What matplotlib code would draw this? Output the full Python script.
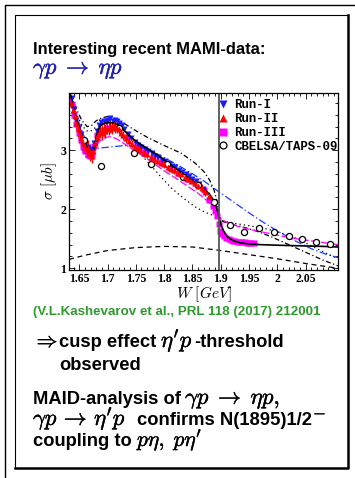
import matplotlib
matplotlib.use("Agg")
import matplotlib.pyplot as plt
import matplotlib.patheffects as pe
from matplotlib.lines import Line2D
from matplotlib.ticker import MultipleLocator

plt.rcParams["mathtext.fontset"] = "cm"

# ---- data (W in GeV, sigma in mub) ----
run1_W = [1.637, 1.641, 1.645, 1.649, 1.653, 1.657, 1.661, 1.665, 1.669, 1.673,
          1.677, 1.681, 1.685, 1.689, 1.693, 1.697, 1.701, 1.705, 1.709, 1.713,
          1.717, 1.721, 1.725, 1.730, 1.736, 1.742, 1.748, 1.754, 1.760, 1.766,
          1.772, 1.778, 1.784, 1.790, 1.796, 1.802, 1.808, 1.814, 1.820, 1.826,
          1.832, 1.838, 1.844, 1.850, 1.856, 1.862, 1.868]
run1_s = [3.88, 3.70, 3.52, 3.40, 3.28, 3.18, 3.10, 3.05, 3.02, 3.00,
          3.12, 3.32, 3.42, 3.47, 3.49, 3.50, 3.52, 3.54, 3.50, 3.52,
          3.49, 3.46, 3.42, 3.36, 3.27, 3.20, 3.14, 3.09, 3.06, 3.02,
          2.99, 2.95, 2.91, 2.88, 2.84, 2.81, 2.77, 2.74, 2.71, 2.67,
          2.63, 2.60, 2.56, 2.52, 2.47, 2.42, 2.35]

run2_W = [1.636, 1.639, 1.642, 1.645, 1.648, 1.651, 1.654, 1.657, 1.660, 1.663,
          1.666, 1.669, 1.672, 1.675, 1.678, 1.681, 1.684, 1.687, 1.690, 1.693,
          1.696, 1.699, 1.702, 1.705, 1.708, 1.711, 1.714, 1.717, 1.720, 1.724,
          1.728, 1.733, 1.738, 1.743, 1.748, 1.753, 1.758, 1.764, 1.770, 1.776,
          1.782, 1.788, 1.794, 1.800, 1.806, 1.812, 1.818, 1.824, 1.830, 1.836,
          1.842, 1.848, 1.854, 1.860, 1.866, 1.872, 1.879]
run2_s = [3.80, 3.68, 3.58, 3.46, 3.38, 3.28, 3.20, 3.12, 3.05, 3.00,
          3.04, 2.95, 2.90, 2.98, 3.12, 3.22, 3.28, 3.32, 3.30, 3.36,
          3.33, 3.38, 3.36, 3.40, 3.38, 3.42, 3.40, 3.38, 3.36, 3.30,
          3.25, 3.20, 3.15, 3.10, 3.06, 3.03, 3.00, 2.96, 2.93, 2.89,
          2.85, 2.82, 2.79, 2.76, 2.72, 2.69, 2.66, 2.62, 2.59, 2.55,
          2.52, 2.48, 2.44, 2.40, 2.36, 2.30, 2.22]
run2_err = [0.08, 0.08, 0.09, 0.09, 0.09, 0.10, 0.10, 0.11, 0.12, 0.12,
            0.13, 0.13, 0.12, 0.12, 0.13, 0.13, 0.12, 0.12, 0.12, 0.12,
            0.12, 0.11, 0.11, 0.11, 0.10, 0.10, 0.10, 0.09, 0.09, 0.09,
            0.08, 0.08, 0.08, 0.07, 0.07, 0.07, 0.07, 0.06, 0.06, 0.06,
            0.06, 0.06, 0.06, 0.06, 0.06, 0.06, 0.06, 0.06, 0.06, 0.06,
            0.06, 0.06, 0.06, 0.06, 0.07, 0.07, 0.07]

run3_W = [1.637, 1.641, 1.645, 1.649, 1.653, 1.657, 1.661, 1.665, 1.669, 1.673,
          1.677, 1.681, 1.690, 1.700, 1.710, 1.720, 1.735, 1.750, 1.765, 1.780,
          1.795, 1.810, 1.825, 1.840, 1.855, 1.870, 1.880, 1.886, 1.890, 1.893,
          1.896, 1.899, 1.902, 1.906, 1.910, 1.914, 1.918, 1.922, 1.926, 1.930,
          1.934, 1.938, 1.942, 1.946, 1.950, 1.954, 1.958]
run3_s = [3.78, 3.60, 3.45, 3.30, 3.18, 3.06, 2.98, 2.93, 2.90, 2.93,
          3.08, 3.25, 3.35, 3.38, 3.40, 3.38, 3.22, 3.06, 2.97, 2.86,
          2.80, 2.70, 2.61, 2.52, 2.44, 2.32, 2.15, 2.05, 1.97, 1.88,
          1.75, 1.63, 1.58, 1.54, 1.51, 1.50, 1.48, 1.47, 1.46, 1.45,
          1.45, 1.44, 1.44, 1.43, 1.43, 1.42, 1.42]

cb_W = [1.659, 1.689, 1.720, 1.747, 1.777, 1.805, 1.834, 1.860, 1.888,
        1.916, 1.941, 1.968, 1.994, 2.020, 2.044, 2.068, 2.093]
cb_s = [3.17, 2.73, 3.37, 2.95, 2.76, 2.76, 2.55, 2.41, 2.12,
        1.73, 1.62, 1.68, 1.62, 1.54, 1.50, 1.45, 1.41]

# model curves
fit_W = [1.634, 1.640, 1.647, 1.653, 1.659, 1.665, 1.670, 1.673, 1.676, 1.680,
         1.684, 1.689, 1.695, 1.703, 1.711, 1.719, 1.727, 1.737, 1.748, 1.760,
         1.775, 1.790, 1.806, 1.822, 1.838, 1.852, 1.864, 1.874, 1.882, 1.888,
         1.892, 1.895, 1.898, 1.901, 1.905, 1.910, 1.916, 1.924, 1.935, 1.950,
         1.970, 2.000, 2.040, 2.080, 2.107]
fit_s = [3.97, 3.72, 3.48, 3.30, 3.14, 3.02, 2.95, 2.93, 3.02, 3.22,
         3.36, 3.43, 3.46, 3.47, 3.46, 3.43, 3.36, 3.26, 3.17, 3.09,
         3.00, 2.91, 2.79, 2.68, 2.57, 2.47, 2.39, 2.31, 2.23, 2.14,
         2.04, 1.94, 1.82, 1.72, 1.63, 1.55, 1.50, 1.46, 1.43, 1.41,
         1.40, 1.39, 1.38, 1.37, 1.36]

blue_W = [1.634, 1.642, 1.650, 1.658, 1.665, 1.670, 1.676, 1.690, 1.710, 1.730,
          1.750, 1.770, 1.795, 1.820, 1.845, 1.870, 1.896, 1.920, 1.945, 1.970,
          2.000, 2.030, 2.060, 2.085, 2.107]
blue_s = [3.95, 3.65, 3.45, 3.25, 3.10, 3.04, 3.03, 3.04, 3.06, 3.08,
          3.07, 3.00, 2.90, 2.77, 2.63, 2.48, 2.30, 2.14, 1.97, 1.81,
          1.63, 1.47, 1.33, 1.24, 1.18]

mag_W = [1.634, 1.640, 1.646, 1.652, 1.658, 1.663, 1.668, 1.673, 1.679, 1.686,
         1.695, 1.703, 1.712, 1.722, 1.740, 1.760, 1.780, 1.800, 1.820, 1.840,
         1.860, 1.875, 1.886, 1.893, 1.896, 1.900, 1.910, 1.930, 1.950, 1.980,
         2.010, 2.040, 2.070, 2.107]
mag_s = [3.88, 3.62, 3.35, 3.10, 2.93, 2.87, 2.87, 2.93, 3.06, 3.16,
         3.21, 3.23, 3.21, 3.16, 3.04, 2.92, 2.79, 2.65, 2.53, 2.40,
         2.27, 2.15, 2.06, 1.99, 1.88, 1.84, 1.78, 1.71, 1.66, 1.60,
         1.54, 1.49, 1.45, 1.40]

dot_W = [1.634, 1.645, 1.655, 1.663, 1.670, 1.678, 1.688, 1.700, 1.712, 1.724,
         1.738, 1.755, 1.775, 1.795, 1.815, 1.835, 1.855, 1.872, 1.885, 1.893,
         1.897, 1.905, 1.925, 1.950, 1.975, 2.000, 2.030, 2.060, 2.085, 2.107]
dot_s = [3.93, 3.62, 3.42, 3.33, 3.32, 3.38, 3.43, 3.44, 3.40, 3.30,
         3.16, 2.97, 2.76, 2.54, 2.34, 2.18, 2.04, 1.95, 1.90, 1.87,
         1.84, 1.80, 1.76, 1.72, 1.68, 1.62, 1.52, 1.38, 1.26, 1.16]

dd_W = [1.634, 1.645, 1.655, 1.664, 1.672, 1.680, 1.690, 1.700, 1.712, 1.725,
        1.745, 1.770, 1.800, 1.830, 1.855, 1.870, 1.880, 1.888, 1.893, 1.897,
        1.902, 1.915, 1.935, 1.960, 1.990, 2.020, 2.050, 2.080, 2.107]
dd_s = [3.95, 3.70, 3.50, 3.40, 3.42, 3.50, 3.55, 3.57, 3.55, 3.48,
        3.36, 3.22, 3.08, 2.95, 2.78, 2.64, 2.50, 2.33, 2.15, 1.90,
        1.80, 1.75, 1.71, 1.64, 1.53, 1.40, 1.27, 1.14, 1.04]

dash_W = [1.632, 1.660, 1.700, 1.750, 1.800, 1.850, 1.900, 1.950, 2.000, 2.050, 2.107]
dash_s = [1.15, 1.22, 1.30, 1.35, 1.37, 1.36, 1.30, 1.23, 1.16, 1.08, 1.00]

threshold_W = 1.896

legend_labels = ["Run-I", "Run-II", "Run-III", "CBELSA/TAPS-09"]

# ---- figure ----
fig = plt.figure(figsize=(3.55, 4.78), dpi=100)

# slide frame + text, drawn in pixel coordinates
bg = fig.add_axes([0, 0, 1, 1], zorder=0)
bg.set_xlim(0, 355)
bg.set_ylim(478, 0)
bg.axis("off")
bg.plot([5, 5, 355], [478, 5, 5], color="black", lw=1.0)
bg.plot([348, 15, 15], [15, 15, 468], color="black", lw=0.8)
bg.plot([15, 348, 348], [468, 468, 15], color="black", lw=1.8)

sans = dict(family="Liberation Sans", fontweight="bold", va="baseline")
body = 13.2
msize = 16.5


def math(x, y, s, size=msize, color="black"):
    # thin outline of the same colour to mimic bold math
    bg.text(x, y, s, fontsize=size, va="baseline", color=color,
            path_effects=[pe.withStroke(linewidth=0.3, foreground=color)])


bg.text(33, 54, "Interesting recent MAMI-data:", fontsize=11.9, **sans)
math(33, 74, r"$\gamma p\;\rightarrow\;\eta p$", color="#1f1fb0")
bg.text(33, 315, "(V.L.Kashevarov et al., PRL 118 (2017) 212001", fontsize=9.6,
        color="#2e9a2e", **sans)

math(33, 347, r"$\Rightarrow$", size=15)
bg.text(59, 347, "cusp effect", fontsize=body, **sans)
math(161, 347, r"$\eta' p$")
bg.text(194, 347, "-threshold", fontsize=body, **sans)
bg.text(59, 370, "observed", fontsize=body, **sans)

bg.text(33, 404, "MAID-analysis of", fontsize=body, **sans)
math(185, 404, r"$\gamma p\;\rightarrow\;\eta p,$")
math(33, 425, r"$\gamma p\,\rightarrow\,\eta' p$")
bg.text(137, 425, "confirms N(1895)1/2", fontsize=body, **sans)
math(313, 418, r"$-$", size=12)
bg.text(33, 446, "coupling to", fontsize=body, **sans)
math(137, 446, r"$p\eta,\; p\eta'$", size=15.5)

# chart
ax = fig.add_axes([69 / 355, 1 - 270 / 478, 269 / 355, 177 / 478], zorder=1)

ax.plot(dash_W, dash_s, color="black", lw=0.9, dashes=(4, 3))
ax.plot(dot_W, dot_s, color="black", lw=0.9, dashes=(1, 2.5))
ax.plot(dd_W, dd_s, color="black", lw=0.9, dashes=(4, 2, 1, 2))
ax.plot(blue_W, blue_s, color="#1a3cff", lw=0.9, dashes=(6, 2, 1, 2))
ax.plot(mag_W, mag_s, color="#ff00ff", lw=0.9, dashes=(6, 2))

ax.plot(run3_W, run3_s, "s", color="#ff00ff", ms=3.8, mec="none")
ax.errorbar(run2_W, run2_s, yerr=run2_err, fmt="^", color="red", ms=3.8,
            mec="none", elinewidth=0.9, capsize=0)
ax.plot(run1_W, run1_s, "v", color="#1a1aff", ms=3.8, mec="none")
ax.plot(fit_W, fit_s, color="black", lw=1.2)
ax.plot(cb_W, cb_s, "o", mfc="white", mec="black", mew=0.9, ms=4.4)

ax.axvline(threshold_W, color="#555555", lw=1.3)

ax.set_xlim(1.632, 2.107)
ax.set_ylim(0.97, 3.97)
ax.xaxis.set_major_locator(MultipleLocator(0.05))
ax.xaxis.set_minor_locator(MultipleLocator(0.01))
ax.yaxis.set_major_locator(MultipleLocator(1))
ax.yaxis.set_minor_locator(MultipleLocator(0.2))
ax.tick_params(which="both", direction="in", top=True, right=True, width=0.6)
ax.tick_params(which="major", length=4, pad=2)
ax.tick_params(which="minor", length=2)
ax.set_xticks([1.65, 1.7, 1.75, 1.8, 1.85, 1.9, 1.95, 2.0, 2.05])
ax.set_xticklabels(["1.65", "1.7", "1.75", "1.8", "1.85", "1.9", "1.95", "2", "2.05"])
ax.set_yticks([1, 2, 3])
ax.set_yticklabels(["1", "2", "3"])
for lab in ax.get_xticklabels() + ax.get_yticklabels():
    lab.set_family("Liberation Serif")
    lab.set_fontweight("bold")
    lab.set_fontsize(8.5)
for sp in ax.spines.values():
    sp.set_linewidth(0.9)

ax.set_xlabel(r"$W\ [GeV]$", fontsize=11, labelpad=0)
ax.set_ylabel(r"$\sigma\ [\mu b]$", fontsize=11, labelpad=1)

handles = [
    Line2D([], [], marker="v", ls="none", color="#1a1aff", ms=6, mec="none"),
    Line2D([], [], marker="^", ls="none", color="red", ms=6, mec="none"),
    Line2D([], [], marker="s", ls="none", color="#ff00ff", ms=5.5, mec="none"),
    Line2D([], [], marker="o", ls="none", mfc="white", mec="black", mew=0.9, ms=5),
]
ax.legend(handles, legend_labels, loc="upper left", bbox_to_anchor=(0.555, 0.965),
          frameon=False, handlelength=0.8, handletextpad=0.5, labelspacing=0.15,
          borderpad=0, borderaxespad=0,
          prop={"family": "Liberation Mono", "size": 8.9, "weight": "bold"})

fig.savefig("out.png", dpi=100)
